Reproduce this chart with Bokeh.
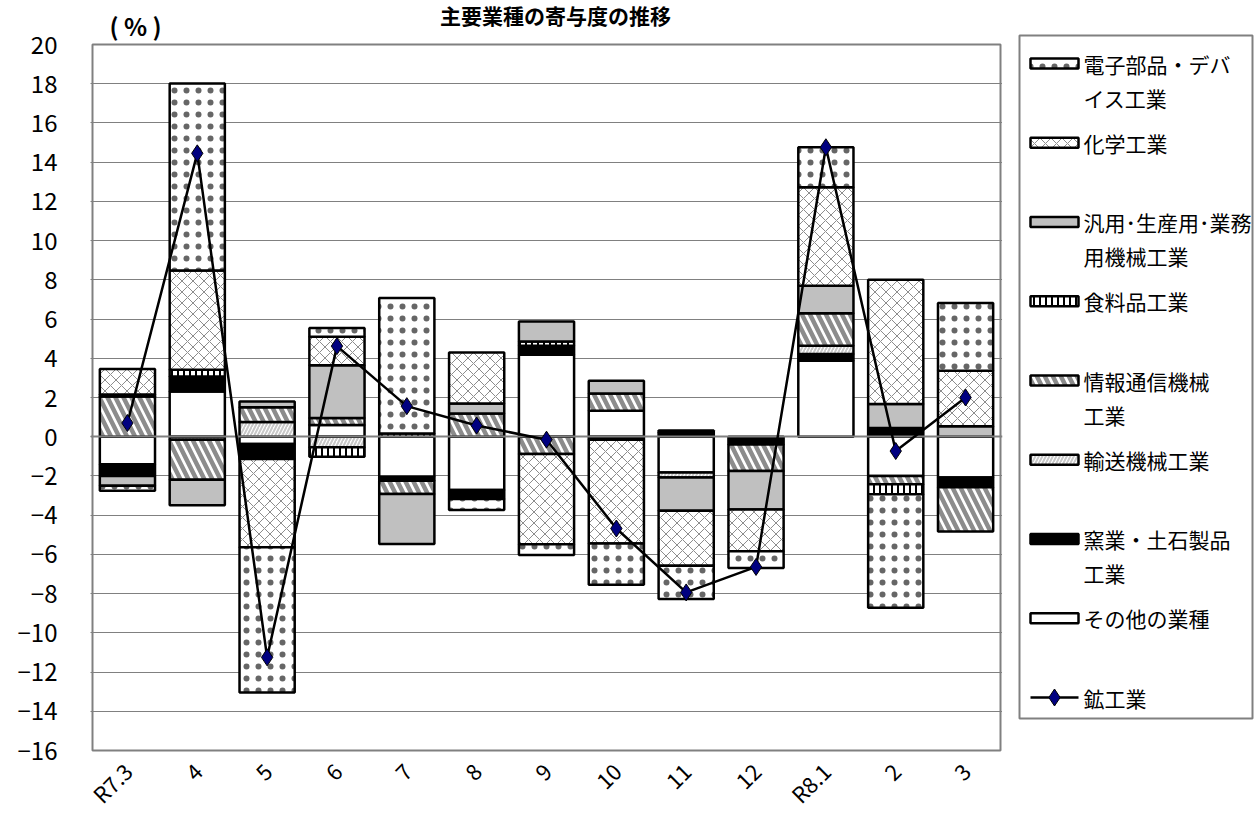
import math
from bokeh.plotting import figure
from bokeh.models import Range1d, FixedTicker
from bokeh.layouts import row
from bokeh.embed import file_html
from bokeh.resources import INLINE
from bokeh.core.properties import value

# ---------------- data ----------------
categories = ["R7.3", "4", "5", "6", "7", "8", "9", "10", "11", "12", "R8.1", "2", "3"]

electronics = [-0.25, 9.53, -7.40, 0.45, 6.90, -0.56, -0.55, -2.10, -1.70, -0.85, 2.04, -5.79, 3.45]
chemical    = [1.30, 5.07, -4.50, 1.45, 0.00, 2.60, -4.60, -5.30, -2.80, -2.13, 5.02, 6.33, 2.84]
general_mach = [-0.50, -1.30, 0.30, 2.70, -2.55, 0.51, 1.02, 0.65, -1.70, -1.96, 1.41, 1.23, 0.53]
food        = [0.10, 0.34, 0.00, -0.48, 0.17, 0.00, 0.22, 0.00, 0.12, 0.00, 0.00, -0.51, 0.00]
info_comm   = [2.05, -2.05, 0.75, 0.35, -0.68, 1.19, -0.88, 0.88, 0.00, -1.35, 1.65, -0.42, -2.25]
transport   = [0.00, -0.15, 0.75, -0.54, 0.00, 0.00, 0.00, 0.00, -0.25, 0.00, 0.42, 0.00, 0.00]
ceramics    = [-0.60, 0.77, -0.77, 0.00, -0.20, -0.46, 0.46, -0.15, 0.20, -0.40, 0.34, 0.44, -0.50]
others      = [-1.40, 2.30, -0.37, 0.60, -2.04, -2.72, 4.18, 1.33, -1.83, 0.00, 3.88, -2.00, -2.08]
mining      = [0.70, 14.45, -11.25, 4.62, 1.56, 0.57, -0.15, -4.68, -7.94, -6.64, 14.76, -0.73, 2.00]

series_names = ["電子部品・デバイス工業", "化学工業", "汎用･生産用･業務用機械工業", "食料品工業",
                "情報通信機械工業", "輸送機械工業", "窯業・土石製品工業", "その他の業種"]
legend_lines = [["電子部品・デバ", "イス工業"], ["化学工業"], ["汎用･生産用･業務", "用機械工業"],
                ["食料品工業"], ["情報通信機械", "工業"], ["輸送機械工業"], ["窯業・土石製品", "工業"],
                ["その他の業種"]]
line_name = "鉱工業"
title_text = "主要業種の寄与度の推移"
unit_text = "( % )"
y_ticks = list(range(-16, 21, 2))
y_min, y_max = -16, 20

series_values = [electronics, chemical, general_mach, food, info_comm, transport, ceramics, others]

# ---------------- styles ----------------
FONT = "Noto Sans CJK JP"
styles = [
    dict(fill_color="white", hatch_pattern="dot", hatch_color="black", hatch_scale=12, hatch_weight=0.3,
         hatch_alpha=0.6),
    dict(fill_color="white", hatch_pattern="diagonal_cross", hatch_color="#8c8c8c", hatch_scale=11, hatch_weight=1),
    dict(fill_color="#c0c0c0"),
    dict(fill_color="white", hatch_pattern="vertical_line", hatch_color="black", hatch_scale=6, hatch_weight=2),
    dict(fill_color="white", hatch_pattern="left_diagonal_line", hatch_color="#8c8c8c", hatch_scale=16, hatch_weight=4.5),
    dict(fill_color="white", hatch_pattern="right_diagonal_line", hatch_color="#c8c8c8", hatch_scale=7, hatch_weight=2),
    dict(fill_color="black"),
    dict(fill_color="white"),
]

n = len(categories)
xs = list(range(n))

# geometry (pixels)
SX = 908 / n                 # px per category
SY = 706 / (y_max - y_min)   # px per unit
PAD = 2
x_pad = PAD / SX
y_top = y_max + 44 / SY
y_bot = y_min - PAD / SY
FRAME_H = 44 + 706 + PAD
BOTTOM = 74

p = figure(frame_width=908 + 2 * PAD, frame_height=FRAME_H,
           x_range=Range1d(-0.5 - x_pad, n - 0.5 + x_pad), y_range=Range1d(y_bot, y_top),
           output_backend="svg", toolbar_location=None,
           min_border_left=92 - PAD, min_border_right=12 - PAD, min_border_top=0, min_border_bottom=BOTTOM,
           background_fill_color="white", border_fill_color="white")

p.outline_line_color = None
p.xgrid.visible = False
p.ygrid.ticker = FixedTicker(ticks=[t for t in y_ticks if y_min < t < y_max])
p.ygrid.grid_line_color = "#000000"
p.ygrid.grid_line_dash = "1 1"
p.ygrid.grid_line_width = 1

p.yaxis.ticker = FixedTicker(ticks=y_ticks)
p.yaxis.axis_line_color = None
p.yaxis.major_tick_line_color = None
p.yaxis.minor_tick_line_color = None
p.yaxis.major_tick_out = 0
p.yaxis.major_label_standoff = 33
p.yaxis.major_label_text_font = FONT
p.yaxis.major_label_text_font_size = "24px"
p.yaxis.major_label_text_color = "black"

p.xaxis.ticker = FixedTicker(ticks=xs)
p.xaxis.major_label_overrides = {i: c for i, c in enumerate(categories)}
p.xaxis.major_label_orientation = math.pi / 4
p.xaxis.axis_line_color = None
p.xaxis.major_tick_line_color = None
p.xaxis.minor_tick_line_color = None
p.xaxis.major_tick_out = 0
p.xaxis.major_label_standoff = 14
p.xaxis.major_label_text_font = FONT
p.xaxis.major_label_text_font_size = "22px"
p.xaxis.major_label_text_color = "black"

# stacked bars (Excel style: positives and negatives stacked separately)
stack_order = list(range(len(series_values)))[::-1]  # その他 at the bottom ... 電子 at the top
pos_base = [0.0] * n
neg_base = [0.0] * n
for si in stack_order:
    vals = series_values[si]
    bx, bt, bb = [], [], []
    for i, v in enumerate(vals):
        if v == 0:
            continue
        if v > 0:
            bottom, top = pos_base[i], pos_base[i] + v
            pos_base[i] = top
        else:
            top, bottom = neg_base[i], neg_base[i] + v
            neg_base[i] = bottom
        bx.append(xs[i]); bt.append(top); bb.append(bottom)
    p.vbar(x=bx, top=bt, bottom=bb, width=0.79, line_color="black", line_width=2.5, **styles[si])

p.hspan(y=[0], line_color="#808080", line_width=2)

# plot-area border
p.quad(left=[-0.5], right=[n - 0.5], bottom=[y_min], top=[y_max],
       fill_color=None, line_color="#808080", line_width=2)

p.line(xs, mining, line_color="black", line_width=2.5)
p.scatter(xs, mining, marker="diamond", size=17, fill_color="#000080", line_color="black", line_width=1)

# title and unit (inside the extended frame above the plot area)
p.text(x=[(555 - 92) / SX - 0.5], y=[y_max + 30 / SY], text=[title_text], text_align="center",
       text_baseline="middle", text_font=value(FONT), text_font_size="21px", text_font_style="bold",
       text_color="black")
p.text(x=[(135 - 92) / SX - 0.5], y=[y_max + 19 / SY], text=[unit_text], text_align="center",
       text_baseline="middle", text_font=value(FONT), text_font_size="24px", text_font_style="bold",
       text_color="black")

# ---------------- legend panel (same vertical frame as the chart so the row aligns) ----------------
LW = 242
lg = figure(frame_width=LW, frame_height=FRAME_H, x_range=Range1d(0, LW), y_range=Range1d(FRAME_H, 0),
            output_backend="svg", toolbar_location=None, x_axis_type=None, y_axis_type=None,
            min_border_left=0, min_border_right=0, min_border_top=0, min_border_bottom=BOTTOM,
            background_fill_color="white", border_fill_color="white")
lg.outline_line_color = None
lg.xgrid.visible = False
lg.ygrid.visible = False

BX0, BY0 = 7, 35           # legend box top-left inside the panel
lg.quad(left=[BX0], right=[BX0 + 233], top=[BY0], bottom=[BY0 + 683],
        fill_color="white", line_color="#808080", line_width=2)

step = 79.25
y0 = BY0 + 28
for k in range(len(series_names)):
    yc = y0 + step * k
    lg.quad(left=[BX0 + 11], right=[BX0 + 59], top=[yc - 5], bottom=[yc + 5],
            line_color="black", line_width=2.5, **styles[k])
    for j, txt in enumerate(legend_lines[k]):
        lg.text(x=[BX0 + 64], y=[yc + 34 * j], text=[txt], text_baseline="middle", text_align="left",
                text_font=value(FONT), text_font_size="21px", text_color="black")
yc = y0 + step * len(series_names)
lg.line([BX0 + 11, BX0 + 59], [yc, yc], line_color="black", line_width=2.5)
lg.scatter([BX0 + 35], [yc], marker="diamond", size=17, fill_color="#000080", line_color="black", line_width=1)
lg.text(x=[BX0 + 64], y=[yc], text=[line_name], text_baseline="middle", text_align="left",
        text_font=value(FONT), text_font_size="21px", text_color="black")

layout = row(p, lg)
open("out.html", "w").write(file_html(layout, INLINE))
